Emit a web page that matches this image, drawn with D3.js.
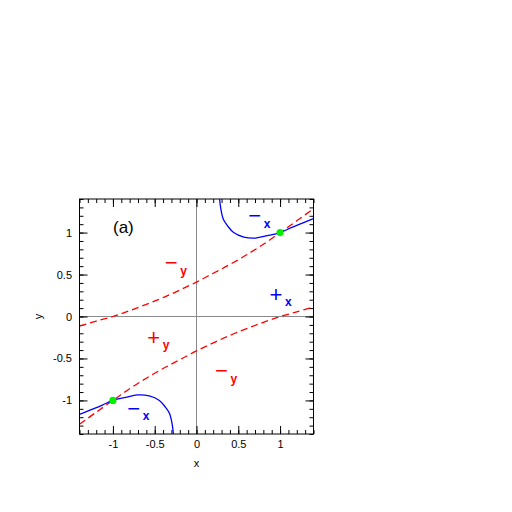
<!DOCTYPE html>
<html><head><meta charset="utf-8">
<script src="https://cdn.jsdelivr.net/npm/d3@7"></script>
<style>body{margin:0;background:#fff}svg{display:block}text{font-family:"Liberation Sans",Arial,sans-serif}</style>
</head><body><svg id="c" width="512" height="512"></svg>
<script>
const xTicks=[-1,-0.5,0,0.5,1];
const xTickLabels=["-1","-0.5","0","0.5","1"];
const yTicks=[-1,-0.5,0,0.5,1];
const yTickLabels=["-1","-0.5","0","0.5","1"];
const xMinorTicks=[-1.4,-1.3,-1.2,-1.1,-1,-0.9,-0.8,-0.7,-0.6,-0.5,-0.4,-0.3,-0.2,-0.1,0,0.1,0.2,0.3,0.4,0.5,0.6,0.7,0.8,0.9,1,1.1,1.2,1.3,1.4];
const yMinorTicks=xMinorTicks;

// x-nullcline (blue solid)
const blueUpperX=[0.276,0.293,0.324,0.372,0.444,0.566,0.707,0.847,1.0,1.126,1.26,1.4];
const blueUpperY=[1.403,1.272,1.152,1.080,1.0,0.947,0.935,0.963,1.0,1.055,1.11,1.167];
const blueLowerX=[-1.4,-1.26,-1.126,-1.0,-0.847,-0.707,-0.566,-0.444,-0.372,-0.324,-0.293,-0.276];
const blueLowerY=[-1.167,-1.11,-1.055,-1.0,-0.963,-0.935,-0.947,-1.0,-1.080,-1.152,-1.272,-1.403];
// y-nullcline (red dashed)
const redUpperX=[-1.4,-1.2,-1.0,-0.8,-0.6,-0.4,-0.2,0,0.2,0.4,0.6,0.8,1.0,1.2,1.4];
const redUpperY=[-0.115,-0.055,0,0.07,0.145,0.225,0.315,0.41,0.515,0.62,0.735,0.86,1.0,1.14,1.285];
const redLowerX=[-1.4,-1.2,-1.0,-0.8,-0.6,-0.4,-0.2,0,0.2,0.4,0.6,0.8,1.0,1.2,1.4];
const redLowerY=[-1.285,-1.14,-1.0,-0.86,-0.735,-0.62,-0.515,-0.41,-0.315,-0.225,-0.145,-0.07,0,0.055,0.115];
// fixed points
const fixedX=[1,-1];
const fixedY=[1,-1];
// sign annotations
const annSign=["\u2212","\u2212","+","+","\u2212","\u2212"];
const annVar=["y","x","x","y","y","x"];
const annX=[-0.302,0.697,0.950,-0.511,0.299,-0.752];
const annY=[0.643,1.203,0.264,-0.245,-0.644,-1.088];
const panelLabel="(a)";
const xTitle="x", yTitle="y";

const svg=d3.select("#c");
const L=79.5,R=313.5,T=199,B=434;
const x=d3.scaleLinear().domain([-1.4,1.4]).range([L,R]);
const y=d3.scaleLinear().domain([-1.4,1.4]).range([B,T]);
const colorOf=v=>v==="x"?"#0000ff":"#ff0000";

svg.append("defs").append("clipPath").attr("id","clip")
  .append("rect").attr("x",L).attr("y",T).attr("width",R-L).attr("height",B-T);

// zero lines
svg.append("line").attr("x1",x(0)).attr("x2",x(0)).attr("y1",T).attr("y2",B).attr("stroke","#8a8a8a").attr("stroke-width",1);
svg.append("line").attr("y1",y(0)).attr("y2",y(0)).attr("x1",L).attr("x2",R).attr("stroke","#8a8a8a").attr("stroke-width",1);

// axes ticks
function styleAxis(g){g.select(".domain").remove();g.selectAll(".tick line").attr("stroke","#000");g.selectAll("text").attr("font-size",11).attr("font-family","Liberation Sans, Arial, sans-serif").attr("fill","#000");}
svg.append("g").attr("transform",`translate(0,${B})`).call(d3.axisBottom(x).tickValues(xMinorTicks).tickSize(-4).tickFormat("")).call(styleAxis);
svg.append("g").attr("transform",`translate(0,${B})`).call(d3.axisBottom(x).tickValues(xTicks).tickSize(-8).tickPadding(6).tickFormat((d,i)=>xTickLabels[i])).call(styleAxis);
svg.append("g").attr("transform",`translate(0,${T})`).call(d3.axisTop(x).tickValues(xMinorTicks).tickSize(-4).tickFormat("")).call(styleAxis);
svg.append("g").attr("transform",`translate(0,${T})`).call(d3.axisTop(x).tickValues(xTicks).tickSize(-8).tickFormat("")).call(styleAxis);
svg.append("g").attr("transform",`translate(${L},0)`).call(d3.axisLeft(y).tickValues(yMinorTicks).tickSize(-4).tickFormat("")).call(styleAxis);
svg.append("g").attr("transform",`translate(${L},0)`).call(d3.axisLeft(y).tickValues(yTicks).tickSize(-8).tickPadding(7.5).tickFormat((d,i)=>yTickLabels[i])).call(styleAxis);
svg.append("g").attr("transform",`translate(${R},0)`).call(d3.axisRight(y).tickValues(yMinorTicks).tickSize(-4).tickFormat("")).call(styleAxis);
svg.append("g").attr("transform",`translate(${R},0)`).call(d3.axisRight(y).tickValues(yTicks).tickSize(-8).tickFormat("")).call(styleAxis);

// frame
svg.append("rect").attr("x",L).attr("y",T).attr("width",R-L).attr("height",B-T).attr("fill","none").attr("stroke","#000").attr("stroke-width",1);

const line=d3.line().x(d=>x(d[0])).y(d=>y(d[1])).curve(d3.curveCatmullRom.alpha(0.5));
const zip=(a,b)=>a.map((v,i)=>[v,b[i]]);
const plot=svg.append("g").attr("clip-path","url(#clip)");
[[redUpperX,redUpperY],[redLowerX,redLowerY]].forEach(([a,b])=>{
  plot.append("path").attr("d",line(zip(a,b))).attr("fill","none").attr("stroke","#ff0000").attr("stroke-width",1.3).attr("stroke-dasharray","7,4");
});
[[blueUpperX,blueUpperY],[blueLowerX,blueLowerY]].forEach(([a,b])=>{
  plot.append("path").attr("d",line(zip(a,b))).attr("fill","none").attr("stroke","#0000ff").attr("stroke-width",1.3);
});
plot.selectAll("circle.fp").data(zip(fixedX,fixedY)).join("circle").attr("class","fp")
  .attr("cx",d=>x(d[0])).attr("cy",d=>y(d[1])).attr("r",3.6).attr("fill","#00f000");

// annotations
annSign.forEach((s,i)=>{
  const cx=x(annX[i]), cy=y(annY[i]), c=colorOf(annVar[i]);
  svg.append("text").attr("x",cx).attr("y",cy+7.8).attr("text-anchor","middle")
    .attr("font-family","'DejaVu Sans', sans-serif")
    .attr("font-size",22).attr("fill",c).text(s);
  svg.append("text").attr("x",cx+9).attr("y",cy+12).attr("font-size",12).attr("font-weight","bold").attr("fill",c).text(annVar[i]);
});

svg.append("text").attr("x",113).attr("y",233).attr("font-size",17).attr("fill","#000").text(panelLabel);
svg.append("text").attr("x",x(0)).attr("y",467).attr("text-anchor","middle").attr("font-size",11).attr("fill","#000").text(xTitle);
svg.append("text").attr("transform",`translate(41.5,${y(0)}) rotate(-90)`).attr("text-anchor","middle").attr("font-size",11).attr("fill","#000").text(yTitle);
</script></body></html>
